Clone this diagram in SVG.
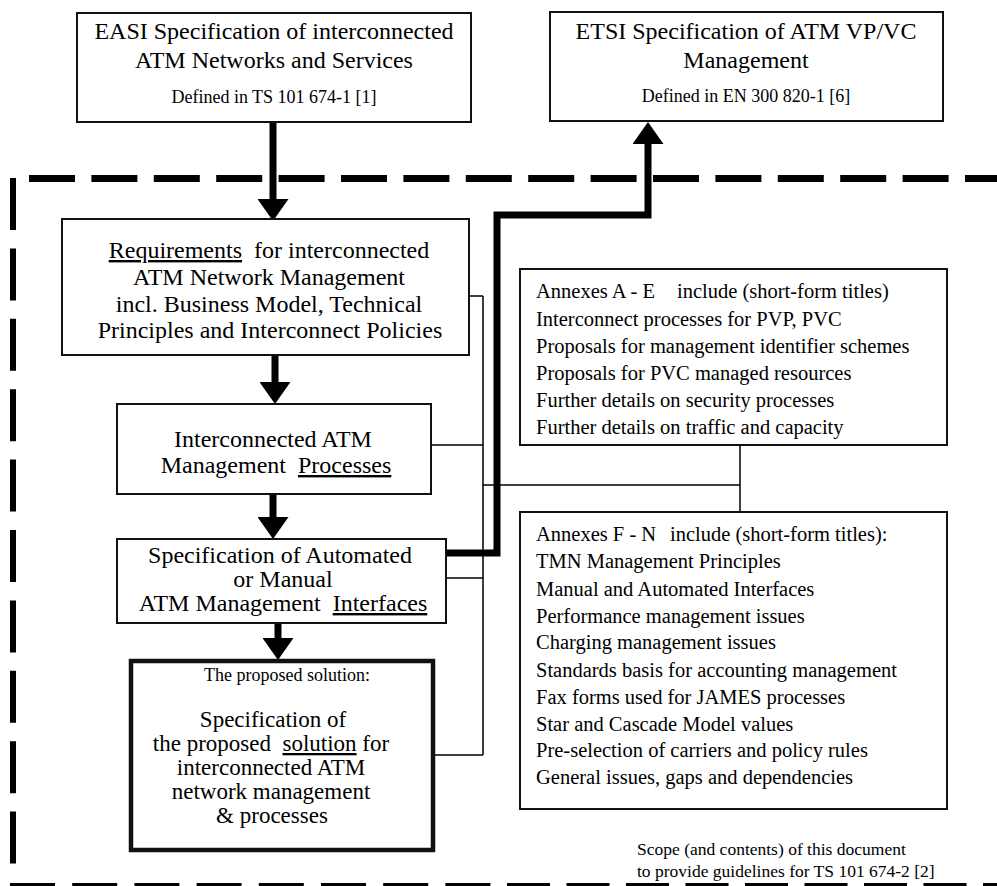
<svg xmlns="http://www.w3.org/2000/svg" width="997" height="886" viewBox="0 0 997 886">
  <style>
    text { font-family: "Liberation Serif", "Times New Roman", serif; fill: #000; white-space: pre; }
    .big { font-size: 24px; text-anchor: middle; }
    .mid { font-size: 23px; text-anchor: middle; }
    .ref { font-size: 18px; text-anchor: middle; }
    .list { font-size: 20.5px; }
    .note { font-size: 17.5px; }
    .u { text-decoration: underline; }
    .box { fill: #fff; stroke: #111; stroke-width: 2; }
    .boxThick { fill: #fff; stroke: #111; stroke-width: 4.5; }
    .flow { fill: none; stroke: #000; stroke-width: 7; }
    .link { fill: none; stroke: #000; stroke-width: 1.5; }
    .scope { fill: none; stroke: #000; }
  </style>
  <defs>
    <marker id="head" viewBox="0 0 22 31" markerWidth="22" markerHeight="31" refX="0" refY="15.5" orient="auto" markerUnits="userSpaceOnUse">
      <path d="M0,0 L22,15.5 L0,31 Z" fill="#000"/>
    </marker>
  </defs>

  <!-- scope boundary (dashed) -->
  <g id="scope-boundary">
    <line class="scope" x1="29" y1="178.5" x2="997" y2="178.5" stroke-width="7" stroke-dasharray="46 16.4"/>
    <line class="scope" x1="13" y1="178" x2="13" y2="866" stroke-width="6" stroke-dasharray="52 18.4"/>
    <line class="scope" x1="10" y1="886.5" x2="492" y2="886.5" stroke-width="7" stroke-dasharray="45 17.2"/>
    <line class="scope" x1="507" y1="886.5" x2="997" y2="886.5" stroke-width="7" stroke-dasharray="43 16.5"/>
  </g>

  <!-- connectors -->
  <g id="connectors">
    <line class="flow" x1="273" y1="122" x2="273" y2="199" marker-end="url(#head)"/>
    <line class="flow" x1="275" y1="355" x2="275" y2="382" marker-end="url(#head)"/>
    <line class="flow" x1="273" y1="494" x2="273" y2="517" marker-end="url(#head)"/>
    <line class="flow" x1="278" y1="623" x2="278" y2="638" marker-end="url(#head)"/>
    <path class="flow" d="M446,553 H497 V215 H648 V144" stroke-linejoin="miter" marker-end="url(#head)"/>

    <path class="link" d="M469,296 H483 M428,445 H483 M443,578 H483 M433,755 H483 M483,296 V755 M483,485 H740 M740,445 V512"/>
  </g>

  <g id="easi">
    <rect class="box" x="77" y="13" width="394" height="109"/>
    <text class="big" x="274" y="39">EASI Specification of interconnected</text>
    <text class="big" x="274" y="68">ATM Networks and Services</text>
    <text class="ref" x="274" y="103">Defined in TS 101 674-1 [1]</text>
  </g>

  <g id="etsi">
    <rect class="box" x="550" y="12" width="393" height="109"/>
    <text class="big" x="746" y="39">ETSI Specification of ATM VP/VC</text>
    <text class="big" x="746" y="68">Management</text>
    <text class="ref" x="746" y="102">Defined in EN 300 820-1 [6]</text>
  </g>

  <g id="requirements">
    <rect class="box" x="62" y="219" width="407" height="136"/>
    <text class="big" x="269" y="258"><tspan class="u">Requirements</tspan>  for interconnected</text>
    <text class="big" x="269" y="285">ATM Network Management</text>
    <text class="big" x="269" y="312">incl. Business Model, Technical</text>
    <text class="big" x="270" y="338">Principles and Interconnect Policies</text>
  </g>

  <g id="processes">
    <rect class="box" x="117" y="404" width="314" height="90"/>
    <text class="big" x="273" y="447">Interconnected ATM</text>
    <text class="big" x="276" y="473">Management  <tspan class="u">Processes</tspan></text>
  </g>

  <g id="interfaces">
    <rect class="box" x="117" y="539" width="329" height="84"/>
    <text class="big" x="280" y="563">Specification of Automated</text>
    <text class="big" x="283" y="587">or Manual</text>
    <text class="big" x="283" y="611">ATM Management  <tspan class="u">Interfaces</tspan></text>
  </g>

  <g id="solution">
    <rect class="boxThick" x="131" y="661" width="302" height="189"/>
    <text class="ref" x="287" y="681">The proposed solution:</text>
    <text class="mid" x="273" y="727">Specification of</text>
    <text class="mid" x="271" y="751">the proposed  <tspan class="u">solution</tspan> for</text>
    <text class="mid" x="271" y="775">interconnected ATM</text>
    <text class="mid" x="271" y="799">network management</text>
    <text class="mid" x="272" y="823">&amp; processes</text>
  </g>

  <g id="annexes-a-e">
    <rect class="box" x="520" y="269" width="427" height="176"/>
    <text class="list" x="536" y="298">Annexes A - E<tspan x="677">include (short-form titles)</tspan></text>
    <text class="list" x="536" y="325.5">Interconnect processes for PVP, PVC</text>
    <text class="list" x="536" y="352.5">Proposals for management identifier schemes</text>
    <text class="list" x="536" y="380">Proposals for PVC managed resources</text>
    <text class="list" x="536" y="407">Further details on security processes</text>
    <text class="list" x="536" y="434">Further details on traffic and capacity</text>
  </g>

  <g id="annexes-f-n">
    <rect class="box" x="520" y="512" width="427" height="297"/>
    <text class="list" x="536" y="541">Annexes F - N<tspan x="670">include (short-form titles):</tspan></text>
    <text class="list" x="536" y="568">TMN Management Principles</text>
    <text class="list" x="536" y="596">Manual and Automated Interfaces</text>
    <text class="list" x="536" y="623">Performance management issues</text>
    <text class="list" x="536" y="649">Charging management issues</text>
    <text class="list" x="536" y="677">Standards basis for accounting management</text>
    <text class="list" x="536" y="704">Fax forms used for JAMES processes</text>
    <text class="list" x="536" y="731">Star and Cascade Model values</text>
    <text class="list" x="536" y="757">Pre-selection of carriers and policy rules</text>
    <text class="list" x="536" y="784">General issues, gaps and dependencies</text>
  </g>

  <g id="scope-caption">
    <text class="note" x="637" y="855">Scope (and contents) of this document</text>
    <text class="note" x="637" y="877">to provide guidelines for TS 101 674-2 [2]</text>
  </g>
</svg>
